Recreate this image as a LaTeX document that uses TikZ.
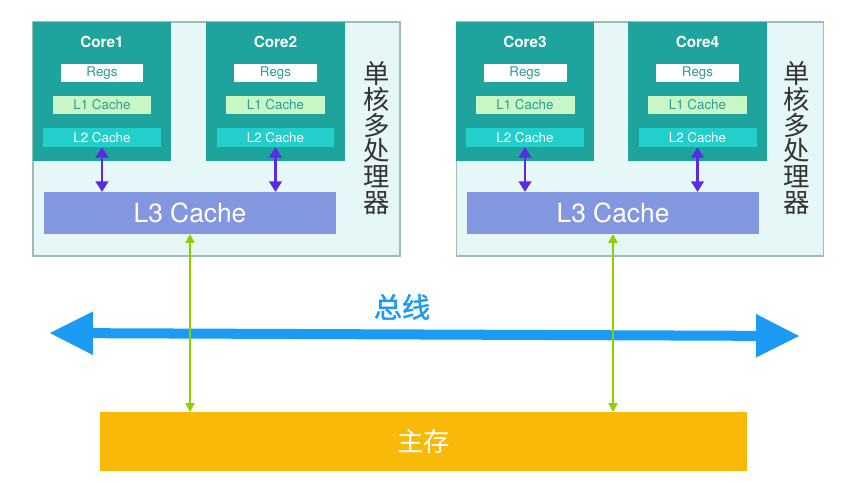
\documentclass[tikz,border=0pt]{standalone}
\usepackage{fontspec}
\setmainfont{TeX Gyre Heros}
\newfontfamily\cjk{Noto Sans CJK SC}
\newfontfamily\cjkb[FakeBold=1.5]{Noto Sans CJK SC}
\usetikzlibrary{arrows.meta}
\definecolor{chipbg}{HTML}{E5F7F7}
\definecolor{chipline}{HTML}{9DBDB5}
\definecolor{coreteal}{HTML}{1FA39D}
\definecolor{celltext}{HTML}{2C9C96}
\definecolor{lonefill}{HTML}{C8F7C5}
\definecolor{ltwofill}{HTML}{23CFCB}
\definecolor{lthreefill}{HTML}{8396E0}
\definecolor{linkpurple}{HTML}{5B2BE3}
\definecolor{linkgreen}{HTML}{8CCF00}
\definecolor{membg}{HTML}{F8B909}
\definecolor{busblue}{HTML}{1C9BF5}
\definecolor{sidegrey}{HTML}{333333}

\begin{document}
\begin{tikzpicture}[x=0.02cm,y=-0.02cm,
   box/.style={inner sep=0pt,outer sep=0pt},
   chip/.style={box,fill=chipbg,draw=chipline,line width=0.8pt,minimum width=7.34cm,minimum height=4.68cm},
   core/.style={box,fill=coreteal,minimum width=2.77cm,minimum height=2.78cm},
   corename/.style={text=white,font=\bfseries\fontsize{8.7}{10}\selectfont},
   regs/.style={box,fill=white,text=celltext,font=\fontsize{7.6}{9}\selectfont,minimum width=1.66cm,minimum height=0.36cm},
   lone/.style={box,fill=lonefill,text=celltext,font=\fontsize{7.6}{9}\selectfont,minimum width=1.98cm,minimum height=0.36cm},
   ltwo/.style={box,fill=ltwofill,text=white,font=\fontsize{7.6}{9}\selectfont,minimum width=2.36cm,minimum height=0.38cm},
   lthree/.style={box,fill=lthreefill,text=white,font=\fontsize{15}{17}\selectfont,minimum width=5.84cm,minimum height=0.84cm},
   side/.style={text=sidegrey,align=center,font=\cjk\fontsize{15}{14.6}\selectfont},
   mem/.style={box,fill=membg,text=white,font=\cjk\fontsize{15}{17}\selectfont,minimum width=12.94cm,minimum height=1.18cm},
   purplelink/.style={linkpurple,line width=1.5pt,{Triangle[length=6pt,width=7pt]}-{Triangle[length=6pt,width=7pt]}},
   greenlink/.style={linkgreen,line width=0.9pt,{Triangle[length=5pt,width=5pt]}-{Triangle[length=5pt,width=5pt]}},
   bus/.style={busblue,line width=5.7pt,{Triangle[length=25pt,width=23pt]}-{Triangle[length=25pt,width=23pt]}}]
  \useasboundingbox (0,0) rectangle (847,481);
  \node[chip] (chip1) at (216.5,139) {};
  \node[chip] (chip2) at (640,139) {};
  \foreach \n/\x in {1/102,2/275.5,3/525,4/697.5} {
    \node[core] (core\n) at (\x,91.5) {};
    \node[corename] (name\n) at (\x,42) {Core\n};
    \node[regs] (regs\n) at (\x,73) {Regs};
    \node[lone] (lone\n) at (\x,105) {L1 Cache};
    \node[ltwo] (ltwo\n) at (\x,137.5) {L2 Cache};
  }
  \node[lthree] (lthree1) at (190,213) {L3 Cache};
  \node[lthree] (lthree2) at (613,213) {L3 Cache};
  \node[side] (side1) at (377,138) {单\\核\\多\\处\\理\\器};
  \node[side] (side2) at (797,138) {单\\核\\多\\处\\理\\器};
  \foreach \n/\p in {1/1,2/1,3/2,4/2}
    \draw[purplelink] (ltwo\n.south) -- (ltwo\n.south |- lthree\p.north);
  \node[mem] (mem) at (423.5,441.5) {主存};
  \coordinate (busL) at (49,333);
  \coordinate (busR) at (800,336);
  \draw[bus] (busL) -- (busR);
  \node[text=busblue,font=\cjkb\fontsize{16}{18}\selectfont] (busname) at (402,307) {总线};
  \foreach \p in {1,2}
    \draw[greenlink] (lthree\p.south) -- (lthree\p.south |- mem.north);
\end{tikzpicture}
\end{document}
